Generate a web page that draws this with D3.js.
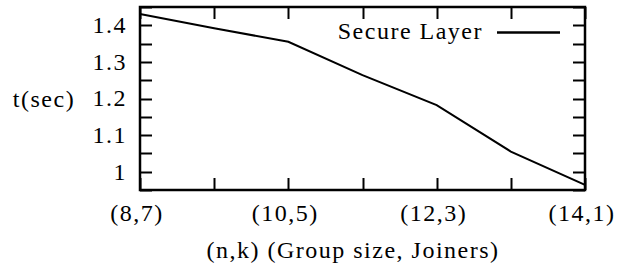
<!DOCTYPE html>
<html>
<head>
<meta charset="utf-8">
<script src="https://cdn.jsdelivr.net/npm/d3@7"></script>
<style>
  body { margin: 0; background: #fff; }
</style>
</head>
<body>
<div id="chart"></div>
<script>
// group sizes n with joiners k = 15 - n
const groupSizes = [8, 9, 10, 11, 12, 13, 14];
const secureLayer = [1.431, 1.392, 1.355, 1.264, 1.182, 1.055, 0.964];
const xTickLabels = ["(8,7)", "(10,5)", "(12,3)", "(14,1)"];
const yTicks = [1, 1.1, 1.2, 1.3, 1.4];

const W = 627, H = 271;
const m = { left: 140, right: 42, top: 7, bottom: 81 };
const fs = 24;
const font = "'Liberation Serif', 'Times New Roman', Times, serif";

const svg = d3.select("#chart").append("svg")
    .attr("width", W).attr("height", H)
    .attr("font-family", font);

const x = d3.scaleLinear().domain([8, 14]).range([m.left, W - m.right]);
const y = d3.scaleLinear().domain([0.95, 1.45]).range([H - m.bottom, m.top]);

const tickLen = 12;
const g = svg.append("g");

function label(sel, px, py, anchor, txt) {
    return sel.append("text").attr("x", px).attr("y", py)
        .attr("dy", "0.33em").attr("text-anchor", anchor)
        .attr("font-size", fs).attr("letter-spacing", 1.5)
        .attr("font-family", font).text(txt);
}

// ticks on all four sides
const minorY = d3.range(0.95, 1.451, 0.05);
minorY.forEach(v => {
    const yy = Math.round(y(v)) + 0.5;
    g.append("line").attr("x1", m.left).attr("x2", m.left + tickLen)
        .attr("y1", yy).attr("y2", yy).attr("stroke", "#000").attr("stroke-width", 2);
    g.append("line").attr("x1", W - m.right).attr("x2", W - m.right - tickLen)
        .attr("y1", yy).attr("y2", yy).attr("stroke", "#000").attr("stroke-width", 2);
});
groupSizes.forEach(v => {
    const xx = Math.round(x(v)) + 0.5;
    g.append("line").attr("x1", xx).attr("x2", xx)
        .attr("y1", H - m.bottom).attr("y2", H - m.bottom - tickLen).attr("stroke", "#000").attr("stroke-width", 2);
    g.append("line").attr("x1", xx).attr("x2", xx)
        .attr("y1", m.top).attr("y2", m.top + tickLen).attr("stroke", "#000").attr("stroke-width", 2);
});

// y tick labels
yTicks.forEach(v => label(g, 127, y(v), "end", d3.format("~g")(v)));

// x tick labels
[8, 10, 12, 14].forEach((v, i) => label(g, x(v) - 3, 213, "middle", xTickLabels[i]));

// axis titles
label(svg, 44, 99, "middle", "t(sec)");
label(svg, 353, 250, "middle", "(n,k) (Group size, Joiners)");

// data line
const line = d3.line().x((d, i) => x(groupSizes[i])).y(d => y(d));
svg.append("path").datum(secureLayer)
    .attr("d", line).attr("fill", "none")
    .attr("stroke", "#000").attr("stroke-width", 2);

// legend
label(svg, 483, 31, "end", "Secure Layer");
svg.append("line").attr("x1", 497).attr("x2", 560).attr("y1", 32.5).attr("y2", 32.5)
    .attr("stroke", "#000").attr("stroke-width", 2.5);

// frame
svg.append("rect").attr("x", m.left).attr("y", m.top)
    .attr("width", W - m.right - m.left).attr("height", H - m.bottom - m.top)
    .attr("fill", "none").attr("stroke", "#000").attr("stroke-width", 2.5);
</script>
</body>
</html>
